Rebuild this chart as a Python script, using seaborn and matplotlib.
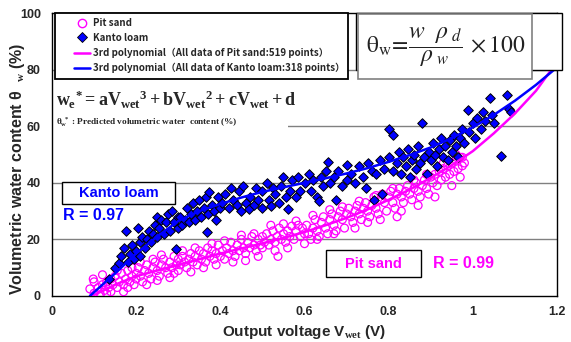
import numpy as np
import pandas as pd
import matplotlib
matplotlib.use('Agg')
import matplotlib.pyplot as plt
import seaborn as sns
from matplotlib.lines import Line2D
from matplotlib.patches import Rectangle

# datos (V_wet en V, theta en %)
kanto_v = [0.135, 0.15, 0.16, 0.165, 0.17, 0.175, 0.18, 0.185, 0.19, 0.195, 0.20, 0.205, 0.21, 0.21, 0.215,
           0.22, 0.225, 0.23, 0.235, 0.24, 0.245, 0.25, 0.25, 0.255, 0.26, 0.265, 0.27, 0.275, 0.28, 0.285, 0.29, 0.295, 0.30, 0.30,
           0.305, 0.31, 0.315, 0.32, 0.325, 0.33, 0.335, 0.34, 0.345, 0.35, 0.355, 0.36, 0.365, 0.368, 0.37, 0.373, 0.38, 0.385, 0.39, 0.395, 0.40,
           0.405, 0.41, 0.42, 0.425, 0.43, 0.44, 0.445, 0.45, 0.455, 0.46, 0.468, 0.47, 0.48, 0.485, 0.49, 0.50, 0.50,
           0.51, 0.515, 0.52, 0.525, 0.53, 0.54, 0.545, 0.55, 0.555, 0.56, 0.565, 0.57, 0.58, 0.585, 0.59, 0.60,
           0.61, 0.615, 0.62, 0.63, 0.635, 0.64, 0.645, 0.65, 0.655, 0.66, 0.67, 0.675, 0.68, 0.69, 0.70, 0.70,
           0.71, 0.72, 0.73, 0.74, 0.745, 0.75, 0.76, 0.765, 0.77, 0.78, 0.785, 0.79, 0.80, 0.80, 0.81, 0.81,
           0.82, 0.825, 0.83, 0.835, 0.84, 0.845, 0.85, 0.855, 0.86, 0.865, 0.87, 0.875, 0.88, 0.885, 0.89, 0.895, 0.90,
           0.905, 0.91, 0.915, 0.92, 0.925, 0.93, 0.935, 0.94, 0.945, 0.95, 0.955, 0.96, 0.965, 0.97, 0.975, 0.98,
           0.988, 0.99, 1.0, 1.005, 1.01, 1.02, 1.025, 1.03, 1.04, 1.045, 1.05, 1.067, 1.08, 1.085, 1.09]
kanto_theta = [6, 10, 11.8, 14, 17, 23, 12, 15, 18, 13, 16, 24, 19, 14, 21,
               17, 20, 23, 19, 22, 25, 28, 21, 24, 27, 22, 26, 29, 23, 30, 26, 16.6, 28, 24,
               28, 25, 27, 31, 26, 29, 33, 27, 30, 34, 28, 31, 35, 22.6, 29, 36.9, 32, 30, 27, 35, 31,
               33, 36, 31, 38, 34, 32, 37, 30, 39, 33, 30.7, 35, 32, 38, 34, 37, 31,
               40, 34, 31.8, 38, 36, 33, 39, 42, 35, 30.7, 37, 41, 35, 42, 37, 40,
               43, 37, 41, 35, 33.7, 42, 39, 44, 47.5, 40, 42, 34, 44, 39, 46.3, 41,
               43, 40, 46, 42, 38, 47, 44, 34, 43, 48, 36, 45, 59, 49, 57, 44,
               47, 51, 43, 49, 46, 52, 42, 48, 50, 45, 53, 47, 61, 49, 43, 51, 48,
               54, 50, 46, 52, 56, 49, 53, 48, 55, 51, 57, 53, 49, 56, 59, 54,
               65.7, 58, 61, 56, 63, 59, 65, 62, 70, 64, 61, 49.6, 71, 66, 65]

pit_v = [0.09, 0.098, 0.10, 0.11, 0.115, 0.12, 0.125, 0.13, 0.135, 0.14, 0.14, 0.145, 0.15, 0.155, 0.16, 0.165, 0.17, 0.175, 0.18, 0.185, 0.19, 0.195, 0.20, 0.20,
         0.205, 0.21, 0.215, 0.22, 0.225, 0.23, 0.235, 0.24, 0.245, 0.25, 0.255, 0.26, 0.265, 0.27, 0.275, 0.28, 0.285, 0.29, 0.295, 0.30, 0.30,
         0.305, 0.31, 0.315, 0.32, 0.325, 0.33, 0.335, 0.34, 0.345, 0.35, 0.355, 0.36, 0.365, 0.37, 0.375, 0.38, 0.385, 0.39, 0.395, 0.40,
         0.405, 0.41, 0.415, 0.42, 0.425, 0.43, 0.435, 0.44, 0.445, 0.45, 0.455, 0.46, 0.465, 0.47, 0.475, 0.48, 0.485, 0.49, 0.495, 0.50, 0.50,
         0.505, 0.51, 0.515, 0.52, 0.525, 0.53, 0.535, 0.537, 0.54, 0.545, 0.55, 0.555, 0.56, 0.565, 0.57, 0.575, 0.58, 0.585, 0.59, 0.595, 0.60,
         0.605, 0.61, 0.615, 0.62, 0.625, 0.63, 0.635, 0.64, 0.645, 0.65, 0.655, 0.66, 0.665, 0.67, 0.675, 0.68, 0.685, 0.69, 0.695, 0.70,
         0.705, 0.71, 0.715, 0.72, 0.725, 0.73, 0.735, 0.74, 0.745, 0.75, 0.755, 0.76, 0.765, 0.77, 0.775, 0.78, 0.785, 0.79, 0.795, 0.80,
         0.805, 0.81, 0.815, 0.82, 0.82, 0.825, 0.83, 0.835, 0.84, 0.845, 0.85, 0.855, 0.86, 0.865, 0.87, 0.875, 0.88, 0.885, 0.89, 0.895, 0.90,
         0.905, 0.91, 0.915, 0.92, 0.925, 0.93, 0.935, 0.94, 0.945, 0.95, 0.955, 0.96, 0.965, 0.97, 0.975, 0.98,
         0.10, 0.12, 0.13, 0.155, 0.17, 0.18, 0.19, 0.21, 0.225, 0.24, 0.25, 0.26, 0.28, 0.29, 0.31, 0.33, 0.34,
         0.36, 0.38, 0.39, 0.41, 0.43, 0.45, 0.46, 0.48, 0.49, 0.52, 0.53, 0.55, 0.56, 0.58, 0.60, 0.62, 0.63,
         0.66, 0.67, 0.69, 0.72, 0.73, 0.75, 0.77, 0.78, 0.81, 0.83, 0.86, 0.87, 0.89, 0.91, 0.93, 0.95, 0.96,
         0.97, 0.975]
pit_theta = [2.5, 6, 1, 3, 0.5, 4, 2, 5, 3, 6, 1.5, 4, 7, 3, 5, 8, 4, 6, 9, 5, 7, 4, 8, 6,
             10, 7, 5, 9, 11, 8, 6, 10, 12, 9, 7, 11, 13, 10, 8, 12, 10, 14, 11, 9, 13,
             11, 14, 12, 10, 13, 15, 12, 14, 11, 16, 13, 15, 12, 17, 14, 16, 13, 15, 18, 14,
             16, 13, 17, 15, 19, 16, 14, 18, 16, 20, 17, 15, 19, 17, 21, 18, 16, 20, 18, 21, 17,
             19, 22, 18, 20, 23, 19, 21, 14, 24, 20, 22, 19, 23, 21, 24.7, 20, 23, 25, 21, 24, 22,
             25, 22, 20, 24, 27, 23, 21, 26, 28, 24, 22, 27, 29, 25, 23, 28, 30, 27, 24, 29,
             31, 28, 26, 30, 32, 29, 27, 31, 33, 30, 28, 32, 35, 31, 29, 34, 36, 33, 30, 35,
             37, 33, 31, 28, 36, 38, 35, 33, 37, 39, 36, 34, 38, 40, 37, 35, 39, 41, 38, 36, 42,
             40, 43, 39, 44, 41, 45, 42, 46, 43, 47, 44, 48, 45, 49, 46, 47,
             5, 7.5, 0.8, 9, 1.5, 3, 10, 12, 4, 13, 5.5, 14.5, 6.5, 8, 16, 8.5, 17,
             10, 18.5, 11, 19.5, 12, 21.5, 12.5, 22, 14, 25, 16, 25.5, 17, 26.5, 18.5, 28.5, 20,
             30.5, 22, 31.5, 24, 33.5, 26, 35.5, 27, 38, 30, 41, 32, 43, 35, 47, 39, 50,
             42, 49]

# curvas polinomicas
kanto_curve_v = [0.09, 0.15, 0.20, 0.25, 0.30, 0.35, 0.40, 0.45, 0.50, 0.55, 0.60, 0.65,
                 0.70, 0.75, 0.80, 0.85, 0.90, 0.95, 1.00, 1.05, 1.10, 1.15, 1.20]
kanto_curve_theta = [0, 8, 15, 21, 26.5, 30, 32.5, 34.8, 36.8, 38.4, 40, 41.6,
                     43.3, 45.2, 47.4, 49.8, 52.5, 55.8, 59.6, 64, 69, 74.6, 80.8]
pit_curve_v = [0.095, 0.15, 0.20, 0.25, 0.30, 0.35, 0.40, 0.45, 0.50, 0.55, 0.60, 0.65,
               0.70, 0.75, 0.80, 0.85, 0.90, 0.95, 1.00, 1.05, 1.10, 1.15, 1.20]
pit_curve_theta = [0, 4, 7, 9, 11, 13, 15, 16.8, 18.6, 20.5, 22.6, 25,
                   27.6, 30.6, 34, 37.6, 41.8, 46.2, 51.2, 57.5, 64.5, 72.5, 82.7]

x_ticks = [0, 0.2, 0.4, 0.6, 0.8, 1.0, 1.2]
x_tick_labels = ['0', '0.2', '0.4', '0.6', '0.8', '1', '1.2']
y_ticks = [0, 20, 40, 60, 80, 100]

MAGENTA = '#FF00FF'
BLUE = '#0000FF'

sns.set_theme(style='white')
plt.rcParams['font.family'] = ['Liberation Sans', 'DejaVu Sans']
plt.rcParams['mathtext.fontset'] = 'custom'
plt.rcParams['mathtext.rm'] = 'Liberation Serif:bold'
plt.rcParams['mathtext.it'] = 'Liberation Serif:bold'
plt.rcParams['mathtext.bf'] = 'Liberation Serif:bold'

W, H = 571, 342
L, R, T, B = 52, 557, 13, 296
fig = plt.figure(figsize=(W / 100, H / 100), dpi=100)
ax = fig.add_axes([L / W, (H - B) / H, (R - L) / W, (B - T) / H])


def px(x, y):
    # pixeles de la imagen -> fraccion de ejes
    return (x - L) / (R - L), (B - y) / (B - T)


def caja(x0, y0, x1, y1, ec='black', lw=1.0, z=5):
    a, b = px(x0, y1)
    c, d = px(x1, y0)
    ax.add_patch(Rectangle((a, b), c - a, d - b, transform=ax.transAxes,
                           facecolor='white', edgecolor=ec, lw=lw, zorder=z, clip_on=False))


kanto = pd.DataFrame({'v': kanto_v, 'theta': kanto_theta})
pit = pd.DataFrame({'v': pit_v, 'theta': pit_theta})

sns.scatterplot(data=pit, x='v', y='theta', ax=ax, marker='o', s=32,
                facecolors='none', edgecolor=MAGENTA, linewidth=0.9, zorder=3)
sns.scatterplot(data=kanto, x='v', y='theta', ax=ax, marker='D', s=24,
                color=BLUE, edgecolor='black', linewidth=0.7, zorder=4)
sns.lineplot(x=pit_curve_v, y=pit_curve_theta, ax=ax, color=MAGENTA, lw=1.8, zorder=6)
sns.lineplot(x=kanto_curve_v, y=kanto_curve_theta, ax=ax, color=BLUE, lw=1.8, zorder=6)

ax.set_xlim(0, 1.2)
ax.set_ylim(0, 100)
ax.set_xticks(x_ticks)
ax.set_xticklabels(x_tick_labels)
ax.set_yticks(y_ticks)
for g in y_ticks[1:-1]:
    ax.axhline(g, color='#808080', lw=1.0, zorder=1)
ax.tick_params(direction='in', length=4, width=1, color='#606060', labelsize=9)
ax.tick_params(axis='x', pad=7)
ax.tick_params(axis='y', pad=8)
for lab in ax.get_xticklabels() + ax.get_yticklabels():
    lab.set_fontweight('bold')
for s in ax.spines.values():
    s.set_color('black')
    s.set_linewidth(1.0)

ax.set_xlabel(r'Output voltage V$_{\mathbf{wet}}$ (V)', fontsize=11, fontweight='bold', labelpad=4)
ax.set_ylabel(r'Volumetric water content θ  $_{\mathbf{w}}$ (%)', fontsize=11.5, fontweight='bold')
ax.yaxis.set_label_coords(-0.05, 0.45)

# leyenda (marco dibujado aparte)
caja(55, 13, 348, 79, ec='black', lw=1.3, z=7)
handles = [
    Line2D([], [], ls='none', marker='o', mfc='none', mec=MAGENTA, ms=6, mew=1),
    Line2D([], [], ls='none', marker='D', mfc=BLUE, mec='black', ms=4.6, mew=0.6),
    Line2D([], [], color=MAGENTA, lw=1.8),
    Line2D([], [], color=BLUE, lw=1.8),
]
labels = ['Pit sand', 'Kanto loam',
          '3rd polynomial（All data of Pit sand:519 points）',
          '3rd polynomial（All data of Kanto loam:318 points）']
leg = ax.legend(handles, labels, loc='upper left', bbox_to_anchor=px(72, 16), bbox_transform=ax.transAxes,
                frameon=False, borderaxespad=0,
                prop={'size': 7.0, 'weight': 'bold', 'family': ['Noto Sans CJK JP', 'DejaVu Sans']},
                handlelength=1.7, handletextpad=0.3, labelspacing=0.5, borderpad=0.2)
leg.set_zorder(8)

# caja de la formula
caja(356, 13, 562, 70, ec='black', lw=1.0, z=7)
caja(358, 14, 532, 79, ec='#808080', lw=1.2, z=7)
fx, fy = px(446, 47)
ax.text(fx, fy, r'$\mathrm{\theta_{w}}\!=\!\dfrac{w\ \ \rho_{\ d}}{\rho_{\ w}}\,\times 100$',
        transform=ax.transAxes, ha='center', va='center', fontsize=17, color='#222222',
        math_fontfamily='stix', zorder=9)

# ecuacion
caja(53, 84, 288, 130, ec='none', z=2)
ex, ey = px(56, 100)
ax.text(ex, ey, r'$w_{e}{}^{*}=aV_{wet}{}^{3}+bV_{wet}{}^{2}+cV_{wet}+d$',
        transform=ax.transAxes, ha='left', va='center', fontsize=13, zorder=9)
ex, ey = px(56, 122)
ax.text(ex, ey, r'$\theta_{w}^{\ *}$ : Predicted volumetric water  content (%)',
        transform=ax.transAxes, ha='left', va='center', fontsize=6.7,
        family='Liberation Serif', fontweight='bold', zorder=9)

# etiquetas de suelo
caja(62, 182, 175, 204, z=7)
tx, ty = px(118.5, 193)
ax.text(tx, ty, 'Kanto loam', transform=ax.transAxes, ha='center', va='center',
        fontsize=10.5, fontweight='bold', color=BLUE, zorder=9)
tx, ty = px(63, 216)
ax.text(tx, ty, 'R = 0.97', transform=ax.transAxes, ha='left', va='center',
        fontsize=11.5, fontweight='bold', color=BLUE, zorder=9)

caja(326, 250, 421, 277, z=7)
tx, ty = px(373.5, 264)
ax.text(tx, ty, 'Pit sand', transform=ax.transAxes, ha='center', va='center',
        fontsize=10.5, fontweight='bold', color=MAGENTA, zorder=9)
tx, ty = px(433, 263)
ax.text(tx, ty, 'R = 0.99', transform=ax.transAxes, ha='left', va='center',
        fontsize=11.5, fontweight='bold', color=MAGENTA, zorder=9)

fig.savefig('out.png', dpi=100)
